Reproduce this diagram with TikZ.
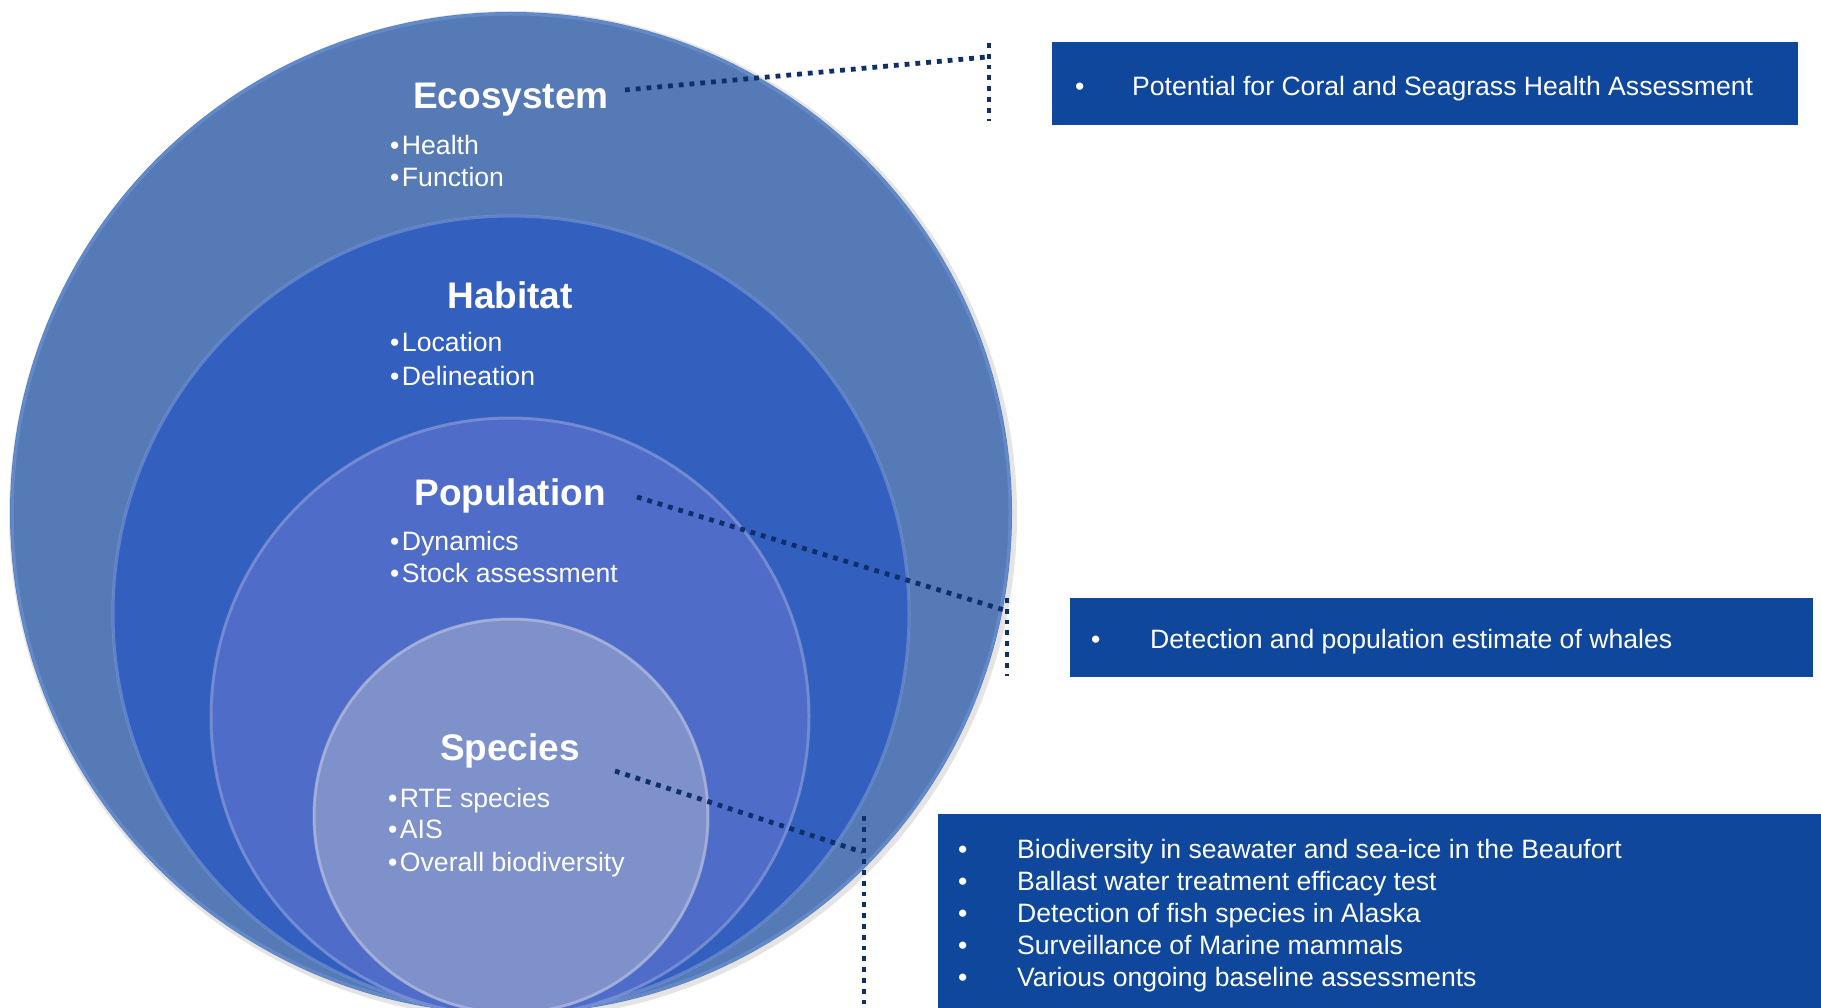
\documentclass[tikz,border=0pt]{standalone}
\usepackage{fontspec}
\setmainfont{Liberation Sans}
\definecolor{ecoc}{HTML}{557AB5}
\definecolor{habc}{HTML}{3360BE}
\definecolor{popc}{HTML}{4F6DC8}
\definecolor{spec}{HTML}{7F91CB}
\definecolor{boxc}{HTML}{0E479C}
\definecolor{dotc}{HTML}{0F2F6A}
\definecolor{rimc}{HTML}{6F97DE}
\begin{document}
\begin{tikzpicture}[x=1pt,y=-1pt,
  title/.style={font=\fontsize{37}{40}\selectfont\bfseries, text=white, inner sep=0pt, anchor=base},
  item/.style={font=\fontsize{26.6}{28}\selectfont, text=white, inner sep=0pt, anchor=base west},
  boxtext/.style={font=\fontsize{26.6}{28}\selectfont, text=white, inner sep=0pt, anchor=base west},
  dotline/.style={draw=dotc, line width=4.8pt, dash pattern=on 4.8pt off 6pt},
  infobox/.style={fill=boxc, draw=none, inner sep=0pt},
  rim/.style={draw=rimc, line width=3pt, draw opacity=0.55}]
\useasboundingbox (0,0) rectangle (1821,1008);
\begin{scope}
\clip (0,0) rectangle (1821,1008);
\fill[black!30, opacity=0.35] (513,515) circle[radius=504];
\fill[ecoc] (511,513) circle[radius=501];
\draw[rim] (511,513) circle[radius=499];
\fill[habc] (511,614) circle[radius=399];
\draw[rim, draw=white!70!habc, draw opacity=0.3] (511,614) circle[radius=398];
\fill[popc] (510,717) circle[radius=300];
\draw[rim, draw=white!70!popc, draw opacity=0.3] (510,717) circle[radius=299];
\fill[spec] (511,816) circle[radius=198];
\draw[rim, draw=white!70!spec, draw opacity=0.4] (511,816) circle[radius=197];
\end{scope}

% titles
\node[title] (eco) at (511,109) {Ecosystem};
\node[title] (hab) at (510,309) {Habitat};
\node[title] (pop) at (510,505.5) {Population};
\node[title] (spe) at (510,760.5) {Species};

% items
\newcommand{\itm}[1]{\textbullet\kern2.5pt #1}
\node[item] (e1) at (390,155) {\itm{Health}};
\node[item] (e2) at (390,186.5) {\itm{Function}};
\node[item] (h1) at (390,352) {\itm{Location}};
\node[item] (h2) at (390,385) {\itm{Delineation}};
\node[item] (p1) at (390,550) {\itm{Dynamics}};
\node[item] (p2) at (390,582) {\itm{Stock assessment}};
\node[item] (s1) at (388,807) {\itm{RTE species}};
\node[item] (s2) at (388,838) {\itm{AIS}};
\node[item] (s3) at (388,871) {\itm{Overall biodiversity}};

% boxes
\node[infobox, minimum width=746pt, minimum height=83pt, anchor=north west] (b1) at (1052,42) {};
\node[boxtext] at (1075,95.5) {\textbullet};
\node[boxtext] (b1t) at (1132,95.5) {Potential for Coral and Seagrass Health Assessment};

\node[infobox, minimum width=743pt, minimum height=79pt, anchor=north west] (b2) at (1070,598) {};
\node[boxtext] at (1091,648.5) {\textbullet};
\node[boxtext] (b2t) at (1150,648.5) {Detection and population estimate of whales};

\node[infobox, minimum width=883pt, minimum height=194pt, anchor=north west] (b3) at (938,814) {};
\foreach \t [count=\i from 0] in {Biodiversity in seawater and sea-ice in the Beaufort,
  Ballast water treatment efficacy test,
  Detection of fish species in Alaska,
  Surveillance of Marine mammals,
  Various ongoing baseline assessments}{
  \node[boxtext] at (958,858.5+31.9*\i) {\textbullet};
  \node[boxtext] (b3t\i) at (1017,858.5+31.9*\i) {\t};
}

% connectors
\coordinate (c1s) at (625,90);
\coordinate (c1e) at (987,57);
\coordinate (v1t) at (989,43);
\coordinate (v1b) at (989,121);
\draw[dotline] (c1s) -- (c1e);
\draw[dotline] (v1t) -- (v1b);

\coordinate (c2s) at (637,497);
\coordinate (c2e) at (1004,610);
\coordinate (v2t) at (1007,598);
\coordinate (v2b) at (1007,676);
\draw[dotline] (c2s) -- (c2e);
\draw[dotline] (v2t) -- (v2b);

\coordinate (c3s) at (615,771);
\coordinate (c3e) at (862,852);
\coordinate (v3t) at (864,816);
\coordinate (v3b) at (864,1008);
\draw[dotline] (c3s) -- (c3e);
\draw[dotline] (v3t) -- (v3b);
\end{tikzpicture}
\end{document}
